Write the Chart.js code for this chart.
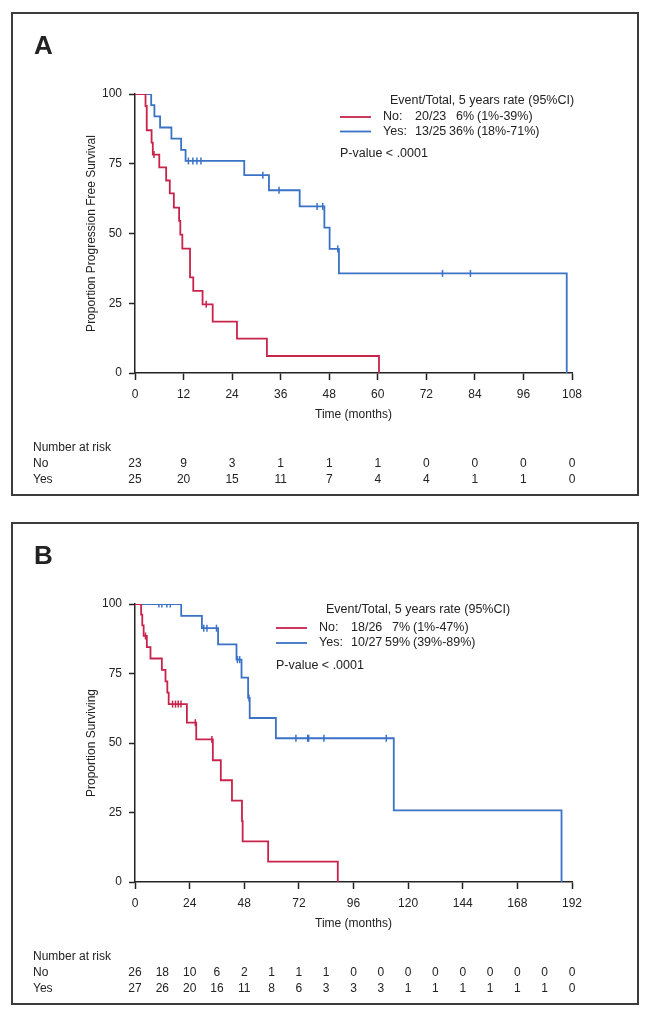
<!DOCTYPE html>
<html lang="en">
<head>
<meta charset="UTF-8">
<title>Kaplan-Meier curves</title>
<script src="https://cdn.jsdelivr.net/npm/chart.js"></script>
<style>
  body { margin: 0; background: #fff; }
  .panel { position: absolute; left: 11px; width: 628px; border: 2px solid #3c3c3c; box-sizing: border-box; }
  #panelA { top: 12px; height: 484px; }
  #panelB { top: 522px; height: 483px; }
  .panel canvas { display: block; }
</style>
</head>
<body>
<div class="panel" id="panelA"><canvas id="chartA" width="624" height="480"></canvas></div>
<div class="panel" id="panelB"><canvas id="chartB" width="624" height="479"></canvas></div>
<script>
// Panel A: progression free survival (step times in months, survival %)
const pfsNoTime = [0, 2.6, 2.9, 4.1, 4.4, 6.0, 7.7, 8.6, 9.6, 10.9, 11.2, 11.7, 13.6, 14.4, 16.7, 19.2, 25.2, 32.6, 60.3];
const pfsNoSurv = [100, 95.7, 87.0, 82.6, 78.3, 73.7, 69.0, 64.4, 59.3, 54.5, 49.6, 44.6, 34.3, 29.4, 24.6, 18.4, 12.3, 6.1, 0];
const pfsNoCensor = [4.7, 17.6];
const pfsYesTime = [0, 4.0, 4.8, 6.2, 9.0, 11.4, 12.5, 27.0, 33.1, 40.7, 46.8, 48.1, 50.4, 106.7];
const pfsYesSurv = [100, 96, 92, 88, 84, 80, 76, 70.9, 65.5, 59.7, 52.1, 44.5, 35.7, 0];
const pfsYesCensor = [13.2, 14.3, 15.3, 16.3, 31.6, 35.6, 45.0, 46.4, 50.1, 76.0, 82.9];
const pfsRiskTimes = [0, 12, 24, 36, 48, 60, 72, 84, 96, 108];
const pfsRiskNo = [23, 9, 3, 1, 1, 1, 0, 0, 0, 0];
const pfsRiskYes = [25, 20, 15, 11, 7, 4, 4, 1, 1, 0];
const pfsLegend = [['No:', '20/23', '6%', '(1%-39%)'], ['Yes:', '13/25', '36%', '(18%-71%)']];

// Panel B: overall survival
const osNoTime = [0, 2.7, 3.2, 3.8, 5.2, 6.8, 11.8, 13.4, 14.2, 14.8, 22.8, 26.9, 34.2, 37.7, 42.6, 47.0, 47.3, 58.5, 89.1];
const osNoSurv = [100, 96.2, 92.3, 88.5, 84.5, 80.4, 76.3, 72.2, 68.1, 64.0, 57.3, 51.3, 43.8, 36.6, 29.3, 21.9, 14.6, 7.3, 0];
const osNoCensor = [4.6, 16.5, 17.8, 19.0, 20.2, 26.5, 33.8];
const osYesTime = [0, 20.3, 29.4, 36.5, 44.6, 46.8, 49.7, 50.4, 61.9, 113.7, 187.4];
const osYesSurv = [100, 95.7, 91.3, 85.5, 80.0, 73.5, 66.2, 59.0, 51.7, 25.8, 0];
const osYesCensor = [10.5, 11.8, 14.0, 15.5, 30.2, 31.6, 35.8, 45.0, 46.0, 50.1, 70.7, 75.9, 76.3, 83.0, 110.4];
const osRiskTimes = [0, 12, 24, 36, 48, 60, 72, 84, 96, 108, 120, 132, 144, 156, 168, 180, 192];
const osRiskNo = [26, 18, 10, 6, 2, 1, 1, 1, 0, 0, 0, 0, 0, 0, 0, 0, 0];
const osRiskYes = [27, 26, 20, 16, 11, 8, 6, 3, 3, 3, 1, 1, 1, 1, 1, 1, 0];
const osLegend = [['No:', '18/26', '7%', '(1%-47%)'], ['Yes:', '10/27', '59%', '(39%-89%)']];

const FAMILY = '"Liberation Sans", Arial, sans-serif';
const INK = '#222';
const RED = '#c8234a';
const BLUE = '#3a72c6';

// value of the step curve at time t
function survAt(times, surv, t) {
    let v = surv[0];
    for (let i = 0; i < times.length; i++) {
        if (times[i] <= t) v = surv[i];
    }
    return v;
}

function textPlugin(cfg) {
    return {
        id: 'kmText',
        afterDraw(chart) {
            const { ctx, chartArea: a } = chart;
            const x = chart.scales.x;
            ctx.save();
            ctx.fillStyle = INK;
            ctx.font = 'bold 26px ' + FAMILY;
            ctx.textBaseline = 'alphabetic';
            ctx.fillText(cfg.letter, 21, 40);

            ctx.font = '12px ' + FAMILY;
            ctx.textBaseline = 'middle';
            ctx.textAlign = 'center';
            ctx.fillText('Time (months)', (a.left + a.right) / 2, a.bottom + 42);
            ctx.save();
            ctx.translate(a.left - 43, (a.top + a.bottom) / 2);
            ctx.rotate(-Math.PI / 2);
            ctx.fillText(cfg.yTitle, 0, 0);
            ctx.restore();

            // number at risk table
            ctx.textAlign = 'left';
            ctx.fillText('Number at risk', 20, a.bottom + 74.5);
            ctx.fillText('No', 20, a.bottom + 90.5);
            ctx.fillText('Yes', 20, a.bottom + 106.5);
            ctx.textAlign = 'center';
            cfg.riskTimes.forEach((t, i) => {
                const px = x.getPixelForValue(t);
                ctx.fillText(String(cfg.riskNo[i]), px, a.bottom + 90.5);
                ctx.fillText(String(cfg.riskYes[i]), px, a.bottom + 106.5);
            });

            // legend block
            ctx.font = '12.5px ' + FAMILY;
            const lx = cfg.legendX;
            const ly = cfg.legendY.map(d => a.top + d);
            ctx.textAlign = 'left';
            ctx.fillText('Event/Total, 5 years rate (95%CI)', lx + 50, ly[0]);
            const cols = [RED, BLUE];
            cfg.legend.forEach((row, i) => {
                const y = ly[i + 1];
                ctx.strokeStyle = cols[i];
                ctx.lineWidth = 1.8;
                ctx.beginPath();
                ctx.moveTo(lx, y);
                ctx.lineTo(lx + 31, y);
                ctx.stroke();
                ctx.textAlign = 'left';
                ctx.fillText(row[0], lx + 43, y);
                ctx.fillText(row[1], lx + 75, y);
                ctx.textAlign = 'right';
                ctx.fillText(row[2], lx + 134, y);
                ctx.textAlign = 'left';
                ctx.fillText(row[3], lx + 137, y);
            });
            ctx.fillText('P-value < .0001', lx, ly[3]);
            ctx.restore();
        }
    };
}

function makeChart(id, cfg) {
    const curve = (times, surv, color) => ({
        data: times.map((t, i) => ({ x: t, y: surv[i] })),
        borderColor: color,
        borderWidth: 1.8,
        stepped: true,
        pointRadius: 0,
        fill: false
    });
    const marks = (times, surv, cens, color) => ({
        data: cens.map(t => ({ x: t, y: survAt(times, surv, t) })),
        showLine: false,
        pointStyle: 'line',
        pointRotation: 90,
        pointRadius: 3.5,
        pointBorderWidth: 1.5,
        pointBorderColor: color,
        borderColor: color
    });
    const tickFont = { family: FAMILY, size: 12 };
    return new Chart(document.getElementById(id), {
        type: 'line',
        data: {
            datasets: [
                curve(cfg.noTime, cfg.noSurv, RED),
                curve(cfg.yesTime, cfg.yesSurv, BLUE),
                marks(cfg.noTime, cfg.noSurv, cfg.noCensor, RED),
                marks(cfg.yesTime, cfg.yesSurv, cfg.yesCensor, BLUE)
            ]
        },
        options: {
            responsive: false,
            animation: false,
            layout: { padding: { left: 0, top: 80, right: 65, bottom: 91 } },
            plugins: { legend: { display: false }, tooltip: { enabled: false } },
            scales: {
                x: {
                    type: 'linear',
                    min: 0,
                    max: cfg.xMax,
                    afterFit: s => { s.height = 30; },
                    ticks: { stepSize: cfg.xStep, color: INK, font: tickFont, padding: 7, maxRotation: 0, autoSkip: false },
                    grid: { drawOnChartArea: false, drawTicks: true, tickLength: 7, tickColor: INK, tickWidth: 1.5 },
                    border: { display: true, color: INK, width: 1.5 }
                },
                y: {
                    min: 0,
                    max: 100,
                    afterFit: s => { s.width = 122; },
                    ticks: { stepSize: 25, color: INK, font: tickFont, padding: 7 },
                    grid: { drawOnChartArea: false, drawTicks: true, tickLength: 6, tickColor: INK, tickWidth: 1.5 },
                    border: { display: true, color: INK, width: 1.5 }
                }
            }
        },
        plugins: [textPlugin(cfg)]
    });
}

makeChart('chartA', {
    letter: 'A',
    yTitle: 'Proportion Progression Free Survival',
    xMax: 108, xStep: 12,
    noTime: pfsNoTime, noSurv: pfsNoSurv, noCensor: pfsNoCensor,
    yesTime: pfsYesTime, yesSurv: pfsYesSurv, yesCensor: pfsYesCensor,
    riskTimes: pfsRiskTimes, riskNo: pfsRiskNo, riskYes: pfsRiskYes,
    legend: pfsLegend,
    legendX: 327,
    legendY: [7, 23, 37.5, 60]
});

makeChart('chartB', {
    letter: 'B',
    yTitle: 'Proportion Surviving',
    xMax: 192, xStep: 24,
    noTime: osNoTime, noSurv: osNoSurv, noCensor: osNoCensor,
    yesTime: osYesTime, yesSurv: osYesSurv, yesCensor: osYesCensor,
    riskTimes: osRiskTimes, riskNo: osRiskNo, riskYes: osRiskYes,
    legend: osLegend,
    legendX: 263,
    legendY: [6, 24, 39, 62]
});
</script>
</body>
</html>
